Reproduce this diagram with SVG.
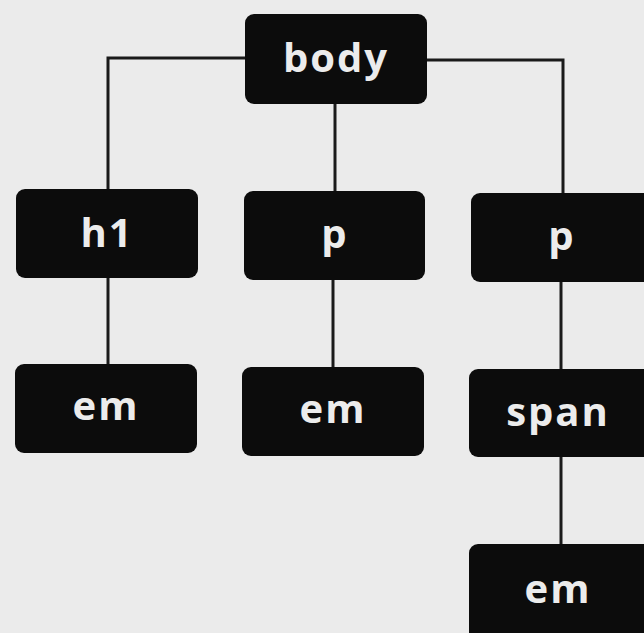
<svg xmlns="http://www.w3.org/2000/svg" width="644" height="633" viewBox="0 0 644 633">
<style>
.box{fill:#0c0c0c}
.lbl{font-family:"Open Sans","DejaVu Sans",sans-serif;font-weight:bold;font-size:40px;fill:#ececec;text-anchor:middle;letter-spacing:2px}
.ln{stroke:#1a1a1a;stroke-width:3;fill:none}
</style>
<rect width="644" height="633" fill="#ebebeb"/>
<g id="connectors">
<polyline class="ln" points="246,58 108,58 108,191"/>
<polyline class="ln" points="426,60 563,60 563,194"/>
<line class="ln" x1="335" y1="103" x2="335" y2="192"/>
<line class="ln" x1="108" y1="277" x2="108" y2="365"/>
<line class="ln" x1="333" y1="279" x2="333" y2="367"/>
<line class="ln" x1="561" y1="281" x2="561" y2="369"/>
<line class="ln" x1="561" y1="456" x2="561" y2="545"/>
</g>
<g id="body"><rect class="box" x="245" y="14" width="182" height="90" rx="9"/><text class="lbl" x="336" y="72">body</text></g>
<g id="h1"><rect class="box" x="16" y="189" width="182" height="89" rx="9"/><text class="lbl" x="107" y="247">h1</text></g>
<g id="p1"><rect class="box" x="244" y="191" width="181" height="89" rx="9"/><text class="lbl" x="335" y="248">p</text></g>
<g id="p2"><rect class="box" x="471" y="193" width="185" height="89" rx="9"/><text class="lbl" x="562" y="250">p</text></g>
<g id="em1"><rect class="box" x="15" y="364" width="182" height="89" rx="9"/><text class="lbl" x="106" y="420">em</text></g>
<g id="em2"><rect class="box" x="242" y="367" width="182" height="89" rx="9"/><text class="lbl" x="333" y="423">em</text></g>
<g id="span"><rect class="box" x="469" y="369" width="187" height="88" rx="9"/><text class="lbl" x="558" y="426">span</text></g>
<g id="em3"><rect class="box" x="469" y="544" width="187" height="100" rx="9"/><text class="lbl" x="558" y="603">em</text></g>
</svg>
